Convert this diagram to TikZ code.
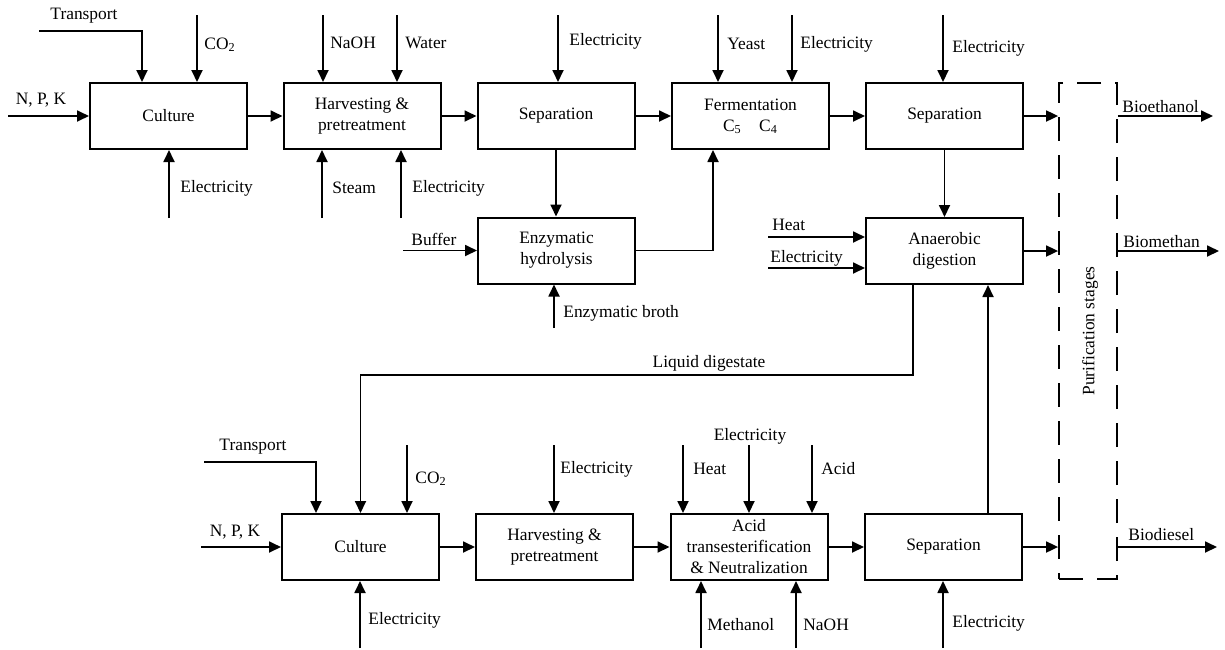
\documentclass[tikz,border=0pt]{standalone}
\usepackage{fontspec}
\setmainfont{Liberation Serif}
\newfontfamily\flowfont{Liberation Serif}
\usetikzlibrary{arrows.meta}

\begin{document}
\begin{tikzpicture}[x=0.5pt, y=-0.5pt,
    font=\flowfont\fontsize{8.7}{10.5}\selectfont,
    proc/.style={draw, line width=1pt, minimum width=78.5pt, minimum height=33pt, inner sep=0pt, align=center},
    flow/.style={line width=0.9pt, -{Triangle[length=6pt, width=5.5pt]}},
    lbl/.style={inner sep=0pt, anchor=west},
    lblc/.style={inner sep=0pt}]

    \useasboundingbox (0,0) rectangle (1225,649);

    % Bioethanol / biomethane line
    \node[proc] (cult1) at (168.5,116) {Culture};
    \node[proc] (harv1) at (362,116) {Harvesting \&\\pretreatment};
    \node[proc] (sep1) at (556,116) {Separation};
    \node[proc] (ferm) at (750.5,116) {Fermentation\\C\textsubscript{5}\quad C\textsubscript{4}};
    \node[proc] (sep2) at (944.5,116) {Separation};
    \node[proc] (enz) at (556.5,250.5) {Enzymatic\\hydrolysis};
    \node[proc] (anae) at (944.5,251) {Anaerobic\\digestion};

    % Biodiesel line
    \node[proc] (cult2) at (360.5,547) {Culture};
    \node[proc] (harv2) at (554.5,547) {Harvesting \&\\pretreatment};
    \node[proc] (acid) at (749,547) {Acid\\transesterification\\\& Neutralization};
    \node[proc] (sep3) at (943.5,547) {Separation};

    % Purification stages
    \node[draw, line width=0.9pt, dash pattern=on 12pt off 7pt, minimum width=29pt, minimum height=248pt, inner sep=0pt] (puri) at (1088,331) {};
    \node[lblc, rotate=90] (lPuri) at (1090,331) {Purification stages};

    % Main streams
    \draw[flow] (cult1) -- (harv1);
    \draw[flow] (harv1) -- (sep1);
    \draw[flow] (sep1) -- (ferm);
    \draw[flow] (ferm) -- (sep2);
    \draw[flow] (sep2) -- (sep2 -| puri.west);
    \draw[flow] (sep1.south) -- (sep1.south |- enz.north);
    \draw[flow] (enz.east) -| ([xshift=-18.75pt]ferm.south);
    \draw[flow] (sep2.south) -- (sep2.south |- anae.north);
    \draw[flow] (anae) -- (anae -| puri.west);
    \draw[flow] (cult2) -- (harv2);
    \draw[flow] (harv2) -- (acid);
    \draw[flow] (acid) -- (sep3);
    \draw[flow] (sep3) -- (sep3 -| puri.west);
    \draw[flow] ([xshift=22.25pt]sep3.north) -- ([xshift=22.25pt]sep3.north |- anae.south);
    \draw[flow] ([xshift=-15.75pt]anae.south) -- ++(0,90) -| (cult2.north);
    \node[lblc] (lDig) at (709,363) {Liquid digestate};

    % Products
    \coordinate (outEth) at (1213,116);
    \coordinate (outMet) at (1219,251);
    \coordinate (outDie) at (1217,547);
    \draw[flow] (sep2 -| puri.east) -- (outEth);
    \draw[flow] (anae -| puri.east) -- (outMet);
    \draw[flow] (sep3 -| puri.east) -- (outDie);
    \node[lbl] (lEth) at (1122,107) {Bioethanol};
    \node[lbl] (lMet) at (1123,242) {Biomethan};
    \node[lbl] (lDie) at (1128,535) {Biodiesel};

    % Feed ends, upper line
    \foreach \n/\x/\y in {trA/39/31, trAc/142/31, npkA/8/116, co2A/197/15, elCultA/169/218,
        naohA/323/15, water/397/15, steam/322/218, elHarvA/401/218, elSepA/558/15,
        buffer/403/250.5, broth/554/328, yeast/718/15, elFerm/792/15, elSepB/943/15,
        heatA/768/237, elAnae/768/268}
        \coordinate (\n) at (\x,\y);

    \draw[flow] (trA) -- (trAc) -- (trAc |- cult1.north);
    \draw[flow] (npkA) -- (cult1.west);
    \draw[flow] (co2A) -- (co2A |- cult1.north);
    \draw[flow] (elCultA) -- (elCultA |- cult1.south);
    \draw[flow] (naohA) -- (naohA |- harv1.north);
    \draw[flow] (water) -- (water |- harv1.north);
    \draw[flow] (steam) -- (steam |- harv1.south);
    \draw[flow] (elHarvA) -- (elHarvA |- harv1.south);
    \draw[flow] (elSepA) -- (elSepA |- sep1.north);
    \draw[flow] (buffer) -- (enz.west);
    \draw[flow] (broth) -- (broth |- enz.south);
    \draw[flow] (yeast) -- (yeast |- ferm.north);
    \draw[flow] (elFerm) -- (elFerm |- ferm.north);
    \draw[flow] (elSepB) -- (elSepB |- sep2.north);
    \draw[flow] (heatA) -- (heatA -| anae.west);
    \draw[flow] (elAnae) -- (elAnae -| anae.west);

    \node[lblc] (lTrA) at (84,16) {Transport};
    \node[lblc] (lNpkA) at (41,100) {N, P, K};
    \node[lbl] (lCo2A) at (204,45) {CO\textsubscript{2}};
    \node[lbl] (lElCultA) at (180,188) {Electricity};
    \node[lbl] (lNaohA) at (330,43) {NaOH};
    \node[lbl] (lWater) at (405,43) {Water};
    \node[lbl] (lSteam) at (332,188) {Steam};
    \node[lbl] (lElHarvA) at (412,188) {Electricity};
    \node[lbl] (lElSepA) at (569,41) {Electricity};
    \node[lbl] (lBuffer) at (411,239) {Buffer};
    \node[lbl] (lBroth) at (563,313) {Enzymatic broth};
    \node[lbl] (lYeast) at (727,44) {Yeast};
    \node[lbl] (lElFerm) at (800,44) {Electricity};
    \node[lbl] (lElSepB) at (952,48) {Electricity};
    \node[lbl] (lHeatA) at (772,225) {Heat};
    \node[lbl] (lElAnae) at (770,258) {Electricity};

    % Feed ends, lower line
    \foreach \n/\x/\y in {trB/204/462, trBc/316/462, npkB/201/547, co2B/407/445, elCultB/360/648,
        elHarvB/554/445, heatB/683/445, elAcid/749/445, acidIn/812/445,
        methanol/701/648, naohB/796/648, elSepC/943/648}
        \coordinate (\n) at (\x,\y);

    \draw[flow] (trB) -- (trBc) -- (trBc |- cult2.north);
    \draw[flow] (npkB) -- (cult2.west);
    \draw[flow] (co2B) -- (co2B |- cult2.north);
    \draw[flow] (elCultB) -- (elCultB |- cult2.south);
    \draw[flow] (elHarvB) -- (elHarvB |- harv2.north);
    \draw[flow] (heatB) -- (heatB |- acid.north);
    \draw[flow] (elAcid) -- (elAcid |- acid.north);
    \draw[flow] (acidIn) -- (acidIn |- acid.north);
    \draw[flow] (methanol) -- (methanol |- acid.south);
    \draw[flow] (naohB) -- (naohB |- acid.south);
    \draw[flow] (elSepC) -- (elSepC |- sep3.south);

    \node[lblc] (lTrB) at (253,447) {Transport};
    \node[lblc] (lNpkB) at (235,532) {N, P, K};
    \node[lbl] (lCo2B) at (415,479) {CO\textsubscript{2}};
    \node[lbl] (lElCultB) at (368,620) {Electricity};
    \node[lbl] (lElHarvB) at (560,469) {Electricity};
    \node[lbl] (lHeatB) at (693,469) {Heat};
    \node[lblc] (lElAcid) at (750,436) {Electricity};
    \node[lbl] (lAcid) at (821,469) {Acid};
    \node[lbl] (lMethanol) at (707,625) {Methanol};
    \node[lbl] (lNaohB) at (803,625) {NaOH};
    \node[lbl] (lElSepC) at (952,623) {Electricity};

\end{tikzpicture}
\end{document}
